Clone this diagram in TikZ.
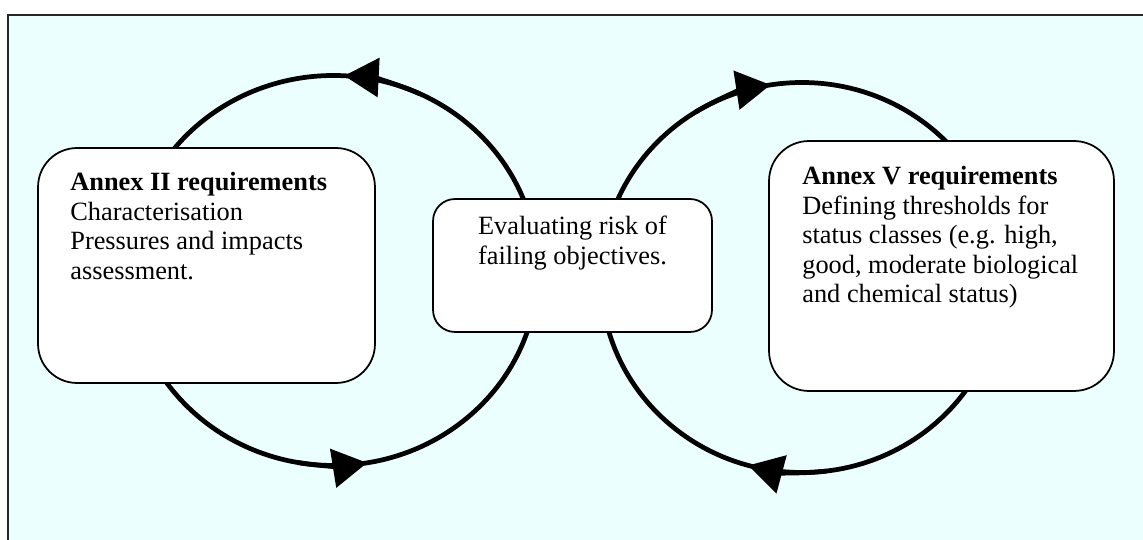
\documentclass[tikz,border=0pt]{standalone}
\usepackage{fontspec}
\setmainfont{Liberation Serif}
\usetikzlibrary{arrows.meta}
\definecolor{bgcyan}{RGB}{236,255,255}
\begin{document}
\begin{tikzpicture}[x=0.02cm,y=0.02cm,
  loopline/.style={line width=2.7pt},
  looparrow/.style={line width=2.7pt,-{Triangle[length=0.69cm,width=0.77cm]}},
  panel/.style={draw,line width=1pt,fill=white,inner sep=0pt,outer sep=0pt},
  txt/.style={font=\fontsize{15}{16.8}\selectfont,inner sep=0pt,align=left,anchor=north west}]
\useasboundingbox (0,0) rectangle (1143,-540);
\clip (0,0) rectangle (1143,-540);
\fill[white] (0,0) rectangle (1143,-540);
\draw[line width=1.2pt,fill=bgcyan,draw=black!85] (8,-15) rectangle (1160,-560);
% loops
\coordinate (lc) at (333.5,-270.5);
\coordinate (rc) at (802,-277.5);
\draw[loopline] (lc) ellipse[x radius=204,y radius=195];
\draw[loopline] (rc) ellipse[x radius=201,y radius=195];
\draw[looparrow] ([shift={(65:204 and 195)}]lc) arc[start angle=65,end angle=87,x radius=204,y radius=195];
\draw[looparrow] ([shift={(-100:204 and 195)}]lc) arc[start angle=-100,end angle=-80.5,x radius=204,y radius=195];
\draw[looparrow] ([shift={(122:201 and 195)}]rc) arc[start angle=122,end angle=99,x radius=201,y radius=195];
\draw[looparrow] ([shift={(-83:201 and 195)}]rc) arc[start angle=-83,end angle=-105.5,x radius=201,y radius=195];
% boxes
\node[panel,rounded corners=0.78cm,minimum width=6.74cm,minimum height=4.7cm] (annexii) at (206.5,-265.5) {};
\node[panel,rounded corners=0.44cm,minimum width=5.58cm,minimum height=2.66cm] (risk) at (572.5,-265.5) {};
\node[panel,rounded corners=0.8cm,minimum width=6.9cm,minimum height=5.0cm] (annexv) at (941.5,-266) {};
% texts
\node[txt] (annexiitext) at (70,-172) {\textbf{Annex II requirements}\\Characterisation\\Pressures and impacts\\assessment.};
\node[txt,align=center,anchor=north] (risktext) at (572.5,-216) {Evaluating risk of\\failing objectives.};
\node[txt] (annexvtext) at (802,-166) {\textbf{Annex V requirements}\\Defining thresholds for\\status classes (e.g. high,\\good, moderate biological\\and chemical status)};
\end{tikzpicture}
\end{document}
